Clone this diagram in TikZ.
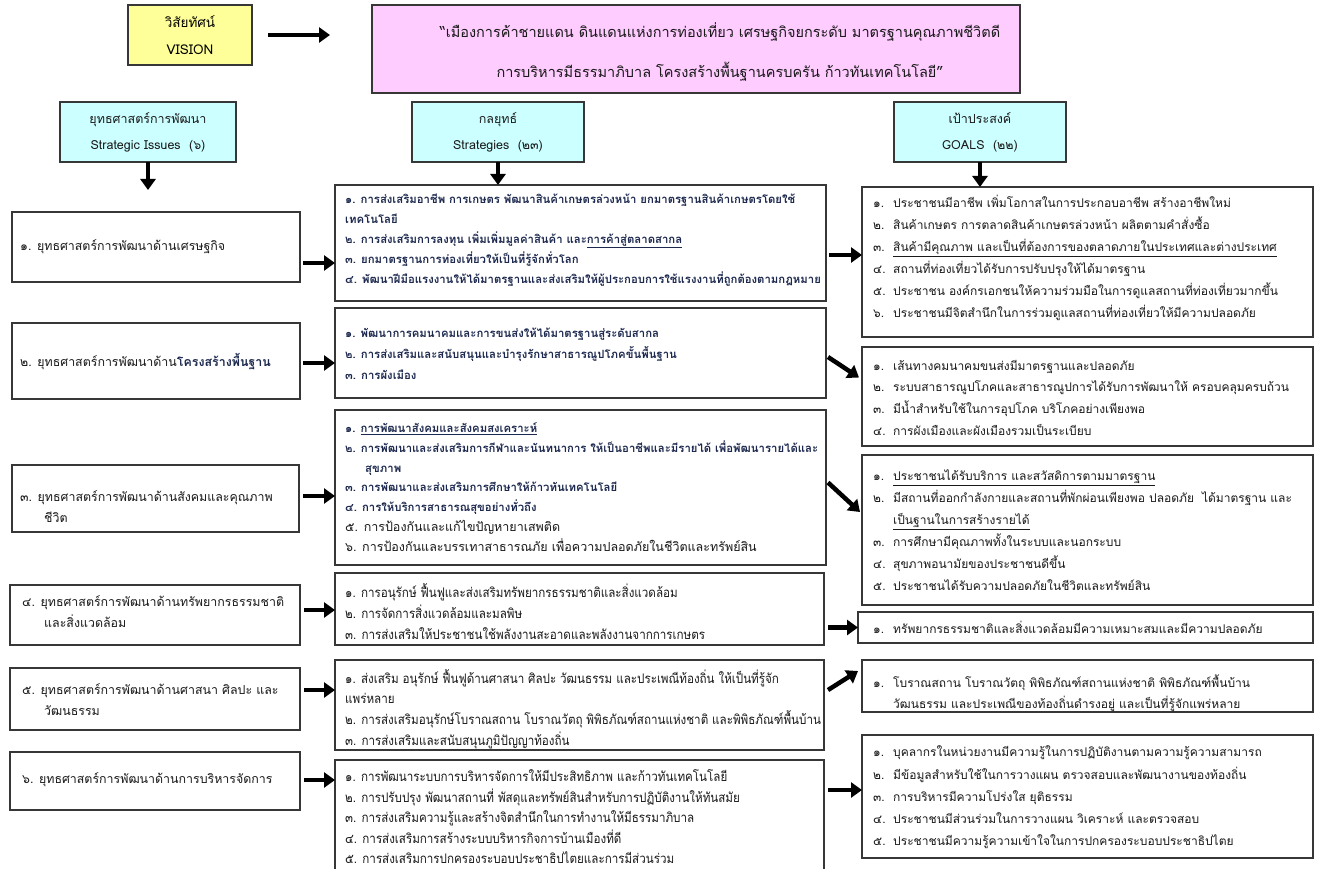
\documentclass[tikz,border=0pt]{standalone}
\usepackage{fontspec}
\setmainfont{Loma}[Script=Thai]
\newfontfamily\condf{Loma}[Script=Thai,FakeStretch=0.88]
\usetikzlibrary{arrows.meta,calc}
\definecolor{visy}{RGB}{255,255,153}
\definecolor{pinkb}{RGB}{255,204,255}
\definecolor{cyanb}{RGB}{204,255,255}
\definecolor{bord}{RGB}{55,55,55}
\definecolor{navy}{RGB}{28,40,78}
\definecolor{txtc}{RGB}{25,25,25}
\newcommand\gitem[2]{\makebox[20pt][l]{#1}#2}
\begin{document}
\begin{tikzpicture}[x=1pt,y=-1pt,
  box/.style={draw=bord, line width=1.1pt, inner sep=0pt, outer sep=0pt, anchor=north west, fill=white},
  hdr/.style={box, fill=cyanb, align=center, font=\fontsize{12.5}{26}\selectfont, text=txtc},
  txt/.style={anchor=west, inner sep=0pt, align=left, text=txtc},
  ltxt/.style={txt, font=\fontsize{12.4}{21}\selectfont},
  gtxt/.style={txt, font=\fontsize{12}{22}\selectfont},
  stxt/.style={txt, font=\bfseries\fontsize{11.35}{20}\selectfont, text=navy},
  ctxt/.style={txt, font=\condf\fontsize{13.2}{21}\selectfont},
  big/.style={line width=4.5pt, -{Triangle[length=11pt,width=15pt]}}]
\fill[white] (0,0) rectangle (1321,869);
\useasboundingbox (0,0) rectangle (1321,869);

% vision
\node[box, fill=visy, minimum width=124pt, minimum height=60pt, align=center,
  font=\fontsize{13.5}{27}\selectfont] (vis) at (128,5) {วิสัยทัศน์\\VISION};
\node[box, fill=pinkb, minimum width=648pt, minimum height=88pt] (visn) at (372,5) {};
\node[anchor=center, align=center, inner sep=0pt, text=txtc, font=\fontsize{14.5}{40}\selectfont] (visnt) at (720,52)
  {``เมืองการค้าชายแดน ดินแดนแห่งการท่องเที่ยว เศรษฐกิจยกระดับ มาตรฐานคุณภาพชีวิตดี\\
   การบริหารมีธรรมาภิบาล โครงสร้างพื้นฐานครบครัน ก้าวทันเทคโนโลยี"};
\coordinate (r0) at (0,35);
\draw[big] ($(vis.east|-r0)+(16,0)$) -- ($(visn.west|-r0)+(-42,0)$);

% headers
\node[hdr, minimum width=176pt, minimum height=60pt] (hL) at (60,102) {ยุทธศาสตร์การพัฒนา\\Strategic Issues\ \ (๖)};
\node[hdr, minimum width=172pt, minimum height=60pt] (hS) at (412,102) {กลยุทธ์\\Strategies\ \ (๒๓)};
\node[hdr, minimum width=172pt, minimum height=60pt] (hG) at (894,102) {เป้าประสงค์\\GOALS\ \ (๒๒)};
\coordinate (hLend) at (148,190);

% left column boxes
\node[box, minimum width=288pt, minimum height=70pt] (L1) at (12,212) {};
\node[box, minimum width=288pt, minimum height=76pt] (L2) at (12,323) {};
\node[box, minimum width=287pt, minimum height=67pt] (L3) at (12,465) {};
\node[box, minimum width=290pt, minimum height=60pt] (L4) at (10,585) {};
\node[box, minimum width=290pt, minimum height=62pt] (L5) at (10,668) {};
\node[box, minimum width=290pt, minimum height=58pt] (L6) at (10,752) {};
\node[ltxt] (L1t) at (20,247) {๑. ยุทธศาสตร์การพัฒนาด้านเศรษฐกิจ};
\node[ltxt] (L2t) at (20,362) {๒. ยุทธศาสตร์การพัฒนาด้าน{\bfseries\color{navy}โครงสร้างพื้นฐาน}};
\node[ltxt] (L3t) at (20,507) {๓. ยุทธศาสตร์การพัฒนาด้านสังคมและคุณภาพ\\\hspace*{24pt}ชีวิต};
\node[ltxt] (L4t) at (22,612) {๔. ยุทธศาสตร์การพัฒนาด้านทรัพยากรธรรมชาติ\\\hspace*{22pt}และสิ่งแวดล้อม};
\node[ltxt] (L5t) at (22,700) {๕. ยุทธศาสตร์การพัฒนาด้านศาสนา ศิลปะ และ\\\hspace*{22pt}วัฒนธรรม};
\node[ltxt] (L6t) at (22,780) {๖. ยุทธศาสตร์การพัฒนาด้านการบริหารจัดการ};

% strategy boxes
\node[box, minimum width=491pt, minimum height=116pt] (S1) at (335,185) {};
\node[box, minimum width=491pt, minimum height=90pt] (S2) at (335,308) {};
\node[box, minimum width=491pt, minimum height=155pt] (S3) at (335,410) {};
\node[box, minimum width=489pt, minimum height=72pt] (S4) at (335,573) {};
\node[box, minimum width=489pt, minimum height=90pt] (S5) at (335,660) {};
\node[box, minimum width=489pt, minimum height=115pt] (S6) at (335,760) {};
\node[stxt] (S1t) at (345,240) {๑. การส่งเสริมอาชีพ การเกษตร พัฒนาสินค้าเกษตรล่วงหน้า ยกมาตรฐานสินค้าเกษตรโดยใช้\\
เทคโนโลยี\\
๒. การส่งเสริมการลงทุน เพิ่มเพิ่มมูลค่าสินค้า และ\underline{การค้าสู่ตลาดสากล}\\
๓. ยกมาตรฐานการท่องเที่ยวให้เป็นที่รู้จักทั่วโลก\\
๔. พัฒนาฝีมือแรงงานให้ได้มาตรฐานและส่งเสริมให้ผู้ประกอบการใช้แรงงานที่ถูกต้องตามกฎหมาย};
\node[stxt, font=\bfseries\fontsize{11.35}{21}\selectfont] (S2t) at (345,354) {๑. พัฒนาการคมนาคมและการขนส่งให้ได้มาตรฐานสู่ระดับสากล\\
๒. การส่งเสริมและสนับสนุนและบำรุงรักษาสาธารณูปโภคขั้นพื้นฐาน\\
๓. การผังเมือง};
\node[stxt, font=\bfseries\fontsize{11.35}{19.7}\selectfont] (S3t) at (345,487) {๑. \underline{การพัฒนาสังคมและสังคมสงเคราะห์}\\
๒. การพัฒนาและส่งเสริมการกีฬาและนันทนาการ ให้เป็นอาชีพและมีรายได้ เพื่อพัฒนารายได้และ\\
\hspace*{20pt}สุขภาพ\\
๓. การพัฒนาและส่งเสริมการศึกษาให้ก้าวทันเทคโนโลยี\\
๔. การให้บริการสาธารณสุขอย่างทั่วถึง\\
{\mdseries\fontsize{12.5}{19.7}\selectfont\color{txtc}๕. การป้องกันและแก้ไขปัญหายาเสพติด}\\
{\mdseries\fontsize{12.5}{19.7}\selectfont\color{txtc}๖. การป้องกันและบรรเทาสาธารณภัย เพื่อความปลอดภัยในชีวิตและทรัพย์สิน}};
\node[ctxt] (S4t) at (345,612) {๑. การอนุรักษ์ ฟื้นฟูและส่งเสริมทรัพยากรธรรมชาติและสิ่งแวดล้อม\\
๒. การจัดการสิ่งแวดล้อมและมลพิษ\\
๓. การส่งเสริมให้ประชาชนใช้พลังงานสะอาดและพลังงานจากการเกษตร};
\node[ctxt, font=\condf\fontsize{13.2}{20.7}\selectfont] (S5t) at (345,709) {๑. ส่งเสริม อนุรักษ์ ฟื้นฟูด้านศาสนา ศิลปะ วัฒนธรรม และประเพณีท้องถิ่น ให้เป็นที่รู้จัก\\
แพร่หลาย\\
๒. การส่งเสริมอนุรักษ์โบราณสถาน โบราณวัตถุ พิพิธภัณฑ์สถานแห่งชาติ และพิพิธภัณฑ์พื้นบ้าน\\
๓. การส่งเสริมและสนับสนุนภูมิปัญญาท้องถิ่น};
\node[ctxt, font=\condf\fontsize{13.2}{20.5}\selectfont] (S6t) at (345,817) {๑. การพัฒนาระบบการบริหารจัดการให้มีประสิทธิภาพ และก้าวทันเทคโนโลยี\\
๒. การปรับปรุง พัฒนาสถานที่ พัสดุและทรัพย์สินสำหรับการปฏิบัติงานให้ทันสมัย\\
๓. การส่งเสริมความรู้และสร้างจิตสำนึกในการทำงานให้มีธรรมาภิบาล\\
๔. การส่งเสริมการสร้างระบบบริหารกิจการบ้านเมืองที่ดี\\
๕. การส่งเสริมการปกครองระบอบประชาธิปไตยและการมีส่วนร่วม};

% goal boxes
\node[box, minimum width=451pt, minimum height=150pt] (G1) at (862,187) {};
\node[box, minimum width=451pt, minimum height=99pt] (G2) at (862,347) {};
\node[box, minimum width=451pt, minimum height=150pt] (G3) at (862,455) {};
\node[box, minimum width=455pt, minimum height=31pt] (G4) at (858,612) {};
\node[box, minimum width=451pt, minimum height=52pt] (G5) at (862,660) {};
\node[box, minimum width=451pt, minimum height=123pt] (G6) at (862,735) {};
\node[gtxt] (G1t) at (873,258) {\gitem{๑.}{ประชาชนมีอาชีพ เพิ่มโอกาสในการประกอบอาชีพ สร้างอาชีพใหม่}\\
\gitem{๒.}{สินค้าเกษตร การตลาดสินค้าเกษตรล่วงหน้า ผลิตตามคำสั่งซื้อ}\\
\gitem{๓.}{\underline{สินค้ามีคุณภาพ และเป็นที่ต้องการของตลาดภายในประเทศและต่างประเทศ}}\\
\gitem{๔.}{สถานที่ท่องเที่ยวได้รับการปรับปรุงให้ได้มาตรฐาน}\\
\gitem{๕.}{ประชาชน องค์กรเอกชนให้ความร่วมมือในการดูแลสถานที่ท่องเที่ยวมากขึ้น}\\
\gitem{๖.}{ประชาชนมีจิตสำนึกในการร่วมดูแลสถานที่ท่องเที่ยวให้มีความปลอดภัย}};
\node[gtxt, font=\fontsize{12}{21.7}\selectfont] (G2t) at (873,397.5) {\gitem{๑.}{เส้นทางคมนาคมขนส่งมีมาตรฐานและปลอดภัย}\\
\gitem{๒.}{ระบบสาธารณูปโภคและสาธารณูปการได้รับการพัฒนาให้ ครอบคลุมครบถ้วน}\\
\gitem{๓.}{มีน้ำสำหรับใช้ในการอุปโภค บริโภคอย่างเพียงพอ}\\
\gitem{๔.}{การผังเมืองและผังเมืองรวมเป็นระเบียบ}};
\node[gtxt] (G3t) at (873,530) {\gitem{๑.}{\underline{ประชาชนได้รับบริการ และสวัสดิการตามมาตรฐาน}}\\
\gitem{๒.}{มีสถานที่ออกกำลังกายและสถานที่พักผ่อนเพียงพอ ปลอดภัย\ \ ได้มาตรฐาน และ}\\
\gitem{}{\underline{เป็นฐานในการสร้างรายได้}}\\
\gitem{๓.}{การศึกษามีคุณภาพทั้งในระบบและนอกระบบ}\\
\gitem{๔.}{สุขภาพอนามัยของประชาชนดีขึ้น}\\
\gitem{๕.}{ประชาชนได้รับความปลอดภัยในชีวิตและทรัพย์สิน}};
\node[gtxt] (G4t) at (873,627.5) {\gitem{๑.}{ทรัพยากรธรรมชาติและสิ่งแวดล้อมมีความเหมาะสมและมีความปลอดภัย}};
\node[gtxt, font=\fontsize{12}{21}\selectfont] (G5t) at (873,693.5) {\gitem{๑.}{โบราณสถาน โบราณวัตถุ พิพิธภัณฑ์สถานแห่งชาติ พิพิธภัณฑ์พื้นบ้าน}\\
\gitem{}{วัฒนธรรม และประเพณีของท้องถิ่นดำรงอยู่ และเป็นที่รู้จักแพร่หลาย}};
\node[gtxt, font=\fontsize{12}{22.2}\selectfont] (G6t) at (873,797.5) {\gitem{๑.}{บุคลากรในหน่วยงานมีความรู้ในการปฏิบัติงานตามความรู้ความสามารถ}\\
\gitem{๒.}{มีข้อมูลสำหรับใช้ในการวางแผน ตรวจสอบและพัฒนางานของท้องถิ่น}\\
\gitem{๓.}{การบริหารมีความโปร่งใส ยุติธรรม}\\
\gitem{๔.}{ประชาชนมีส่วนร่วมในการวางแผน วิเคราะห์ และตรวจสอบ}\\
\gitem{๕.}{ประชาชนมีความรู้ความเข้าใจในการปกครองระบอบประชาธิปไตย}};

% header arrows
\draw[big] (hL.south) -- (hLend);
\draw[big] (hS.south) -- (hS.south|-S1.north);
\draw[big] (hG.south) -- (hG.south|-G1.north);

% left to strategy arrows
\coordinate (r1) at (0,263);
\coordinate (r2) at (0,363);
\coordinate (r3) at (0,496);
\coordinate (r4) at (0,610);
\coordinate (r5) at (0,690);
\coordinate (r6) at (0,780);
\draw[big] ($(L1.east|-r1)+(3,0)$) -- (S1.west|-r1);
\draw[big] ($(L2.east|-r2)+(3,0)$) -- (S2.west|-r2);
\draw[big] ($(L3.east|-r3)+(4,0)$) -- (S3.west|-r3);
\draw[big] ($(L4.east|-r4)+(4,0)$) -- (S4.west|-r4);
\draw[big] ($(L5.east|-r5)+(4,0)$) -- (S5.west|-r5);
\draw[big] ($(L6.east|-r6)+(4,0)$) -- (S6.west|-r6);

% strategy to goal arrows
\coordinate (g1) at (0,255);
\coordinate (g6) at (0,790);
\draw[big] ($(S1.east|-g1)+(3,0)$) -- (G1.west|-g1);
\draw[big] ($(S2.east)+(2,4)$) -- ($(G2.west)+(-3,-19)$);
\draw[big] ($(S3.east)+(2,-5)$) -- ($(G3.west)+(-2,-18)$);
\draw[big] ($(S4.east|-G4.west)+(4,0)$) -- (G4.west);
\draw[big] ($(S5.east)+(4,-15)$) -- ($(G5.west)+(-4,-15)$);
\draw[big] ($(S6.east|-g6)+(4,0)$) -- (G6.west|-g6);
\end{tikzpicture}
\end{document}
